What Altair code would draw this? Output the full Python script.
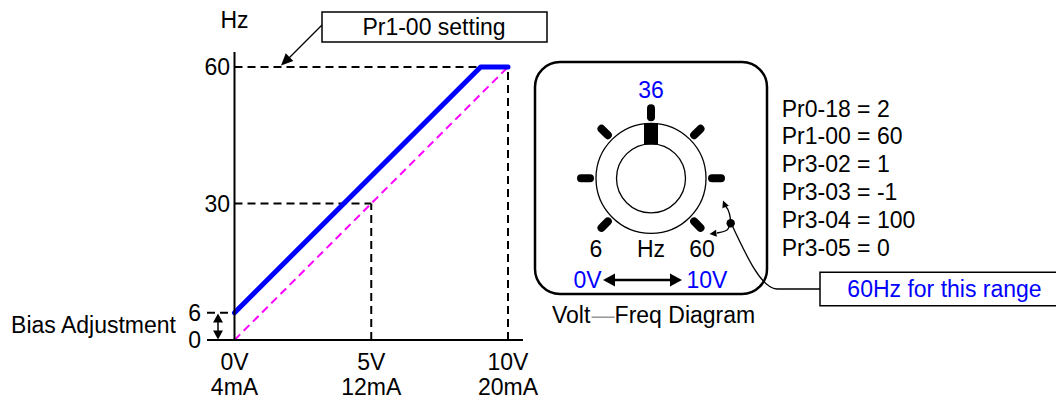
import math
import altair as alt
import pandas as pd

# ---------------- values ----------------
volt_ticks = [0, 5, 10]
volt_labels = ["0V", "5V", "10V"]
current_labels = ["4mA", "12mA", "20mA"]
hz_ticks = [60, 30, 6, 0]
hz_labels = ["60", "30", "6", "0"]
curve_volts = [0, 9, 10]
curve_hz = [6, 60, 60]
ref_volts = [0, 10]
ref_hz = [0, 60]
param_lines = ["Pr0-18 = 2", "Pr1-00 = 60", "Pr3-02 = 1",
               "Pr3-03 = -1", "Pr3-04 = 100", "Pr3-05 = 0"]
dial_setting = "36"
dial_scale_labels = ["6", "Hz", "60"]
dial_volt_labels = ["0V", "10V"]
axis_unit = "Hz"
bias_text = "Bias Adjustment"
max_text = "Pr1-00 setting"
range_text = "60Hz for this range"
caption = ["Volt", "\u2014", "Freq Diagram"]

# ---------------- layout ----------------
W, H = 1048, 394
PAGE = 8
X0P, X10P = 234.5, 508.0      # page x of 0 V and 10 V
Y0P, Y60P = 340.0, 67.0       # page y of 0 Hz and 60 Hz
PXV = (X10P - X0P) / 10
PYH = (Y0P - Y60P) / 60
FONT = "Liberation Sans"
FS = 23
BLUE = "#0000ff"


def vx(p):
    return (p - X0P) / PXV


def hy(p):
    return (Y0P - p) / PYH


XS = alt.Scale(domain=[vx(PAGE), vx(PAGE + W)], nice=False, zero=False)
YS = alt.Scale(domain=[hy(PAGE + H), hy(PAGE)], nice=False, zero=False)


def enc_xy(**extra):
    return dict(x=alt.X("x:Q", scale=XS, axis=None),
                y=alt.Y("y:Q", scale=YS, axis=None), **extra)


def enc_seg():
    return dict(x=alt.X("x:Q", scale=XS, axis=None),
                y=alt.Y("y:Q", scale=YS, axis=None),
                x2=alt.X2("x2:Q"), y2=alt.Y2("y2:Q"))


def segs(rows):
    return pd.DataFrame(rows, columns=["x", "y", "x2", "y2"])


def text_layer(rows, align="center", color="black", size=FS):
    df = pd.DataFrame(rows, columns=["x", "y", "t"])
    return alt.Chart(df).mark_text(
        align=align, baseline="middle", font=FONT, fontSize=size, color=color, dy=1.3
    ).encode(**enc_xy(text="t:N"))


def line_layer(rows, **kw):
    df = pd.DataFrame(rows, columns=["x", "y", "g", "i"])
    return alt.Chart(df).mark_line(**kw).encode(
        **enc_xy(detail="g:N", order="i:Q"))


def heads(rows, unit, half=0.5):
    df = pd.DataFrame(rows, columns=["x", "y", "a"])
    path = f"M0,0L{-half},1L{half},1Z"
    return alt.Chart(df).mark_point(
        shape=path, filled=True, color="black", opacity=1,
        size=(2 * unit) ** 2, strokeWidth=0
    ).encode(**enc_xy(angle=alt.Angle("a:Q", scale=None)))


layers = []

# ---- dashed guide lines ----
guides = segs([
    (0, 60, 10, 60),
    (0, 30, 5, 30),
    (5, 0, 5, 30),
    (10, 0, 10, 60),
    (vx(207), 6, 0, 6),
])
layers.append(alt.Chart(guides).mark_rule(
    color="black", strokeWidth=2, strokeDash=[8, 5]).encode(**enc_seg()))

# ---- reference (no bias) line ----
ref_df = pd.DataFrame({"x": ref_volts, "y": ref_hz, "i": range(len(ref_volts))})
layers.append(alt.Chart(ref_df).mark_line(
    color="#ff00ff", strokeWidth=2, strokeDash=[8, 5]
).encode(**enc_xy(order="i:Q")))

# ---- biased curve ----
cur_df = pd.DataFrame({"x": curve_volts, "y": curve_hz, "i": range(len(curve_volts))})
layers.append(alt.Chart(cur_df).mark_line(
    color=BLUE, strokeWidth=5, strokeCap="round", strokeJoin="round"
).encode(**enc_xy(order="i:Q")))

# ---- axes ----
axes = segs([(vx(207), 0, vx(523), 0), (0, hy(52), 0, 0)])
layers.append(alt.Chart(axes).mark_rule(color="black", strokeWidth=2).encode(**enc_seg()))

# ---- tick labels ----
ylab_rows = []
for v, lab in zip(hz_ticks, hz_labels):
    ylab_rows.append((vx(230) if v >= 30 else vx(201), v, lab))
layers.append(text_layer(ylab_rows, align="right"))
xlab_rows = [(v, hy(362), a) for v, a in zip(volt_ticks, volt_labels)] + \
            [(v, hy(387), b) for v, b in zip(volt_ticks, current_labels)]
layers.append(text_layer(xlab_rows))
layers.append(text_layer([(0, hy(19.5), axis_unit)]))
layers.append(text_layer([(vx(176), hy(325), bias_text)], align="right"))

# ---- bias double arrow ----
layers.append(alt.Chart(segs([(vx(218), hy(320), vx(218), hy(333))])).mark_rule(
    color="black", strokeWidth=1.5).encode(**enc_seg()))
layers.append(heads([(vx(218), hy(313.5), 0), (vx(218), hy(339.5), 180)], unit=9, half=0.55))

# ---- Pr1-00 setting call-out ----
box1 = segs([(vx(322), hy(12), vx(547), hy(42))])
layers.append(alt.Chart(box1).mark_rect(
    fill="white", stroke="black", strokeWidth=1.5).encode(**enc_seg()))
layers.append(text_layer([(vx(434), hy(27), max_text)]))
layers.append(alt.Chart(segs([(vx(322), hy(25), vx(288), hy(59))])).mark_rule(
    color="black", strokeWidth=1.3).encode(**enc_seg()))
layers.append(heads([(vx(281), hy(65.5), 225.4)], unit=12, half=0.45))

# ---- dial panel ----
DCX, DCY = 651.0, 178.3
panel = segs([(vx(535), hy(62), vx(767), hy(294))])
layers.append(alt.Chart(panel).mark_rect(
    fillOpacity=0, stroke="black", strokeWidth=2.5, cornerRadius=25).encode(**enc_seg()))

rings = pd.DataFrame({"x": [vx(DCX)] * 2, "y": [hy(DCY)] * 2, "s": [110 ** 2, 69 ** 2]})
layers.append(alt.Chart(rings).mark_point(
    shape="circle", filled=False, color="black", strokeWidth=1.3, opacity=1
).encode(**enc_xy(size=alt.Size("s:Q", scale=None))))

pointer = segs([(vx(644), hy(123.5), vx(658), hy(144.5))])
layers.append(alt.Chart(pointer).mark_rect(color="black").encode(**enc_seg()))

tick_rows = []
for a in [0, 45, 90, 135, 180, 225, 315]:
    t = math.radians(a)
    tick_rows.append((vx(DCX + 61 * math.cos(t)), hy(DCY - 61 * math.sin(t)),
                      vx(DCX + 70 * math.cos(t)), hy(DCY - 70 * math.sin(t))))
layers.append(alt.Chart(segs(tick_rows)).mark_rule(
    color="black", strokeWidth=8, strokeCap="round").encode(**enc_seg()))

layers.append(text_layer([(vx(651), hy(90), dial_setting)], color=BLUE))
layers.append(text_layer([(vx(596), hy(249), dial_scale_labels[0]),
                          (vx(651), hy(249), dial_scale_labels[1]),
                          (vx(702), hy(249), dial_scale_labels[2])]))
layers.append(text_layer([(vx(587.5), hy(280), dial_volt_labels[0]),
                          (vx(707), hy(280), dial_volt_labels[1])], color=BLUE))
layers.append(alt.Chart(segs([(vx(610), hy(280), vx(676), hy(280))])).mark_rule(
    color="black", strokeWidth=2.5).encode(**enc_seg()))
layers.append(heads([(vx(603), hy(280), 270), (vx(682), hy(280), 90)], unit=12, half=0.55))

layers.append(text_layer([(vx(552), hy(315), caption[0]),
                          (vx(614.6), hy(315), caption[2])], align="left"))
layers.append(text_layer([(vx(591.6), hy(315), caption[1])], align="left", color="#999999"))

# ---- parameter list ----
param_rows = [(vx(781.7), hy(108.3 + 27.88 * k), s) for k, s in enumerate(param_lines)]
layers.append(text_layer(param_rows, align="left"))

# ---- "60Hz for this range" call-out ----
box2 = segs([(vx(820), hy(272.3), vx(1062), hy(305.7))])
layers.append(alt.Chart(box2).mark_rect(
    fill="white", stroke="black", strokeWidth=1.5).encode(**enc_seg()))
layers.append(text_layer([(vx(944.5), hy(289), range_text)], color=BLUE))
layers.append(line_layer([
    (vx(731), hy(223), "c", 0), (vx(777), hy(289), "c", 1), (vx(820), hy(289), "c", 2),
    (vx(731), hy(223), "u", 0), (vx(729.5), hy(214), "u", 1), (vx(725.5), hy(206), "u", 2),
    (vx(731), hy(223), "l", 0), (vx(727), hy(230), "l", 1), (vx(717), hy(233), "l", 2),
], color="black", strokeWidth=1.3, interpolate="monotone"))
layers.append(heads([(vx(723), hy(200.5), 338), (vx(709.5), hy(234), 264)], unit=7, half=0.5))
dot = pd.DataFrame({"x": [vx(730.7)], "y": [hy(223.3)]})
layers.append(alt.Chart(dot).mark_point(
    shape="circle", filled=True, color="black", size=70, opacity=1).encode(**enc_xy()))

chart = alt.layer(*layers).properties(
    width=W, height=H,
    autosize=alt.AutoSizeParams(type="none"),
    padding=0,
).configure_view(stroke=None)

chart.save("out.html", embed_options={"renderer": "svg", "actions": False})
